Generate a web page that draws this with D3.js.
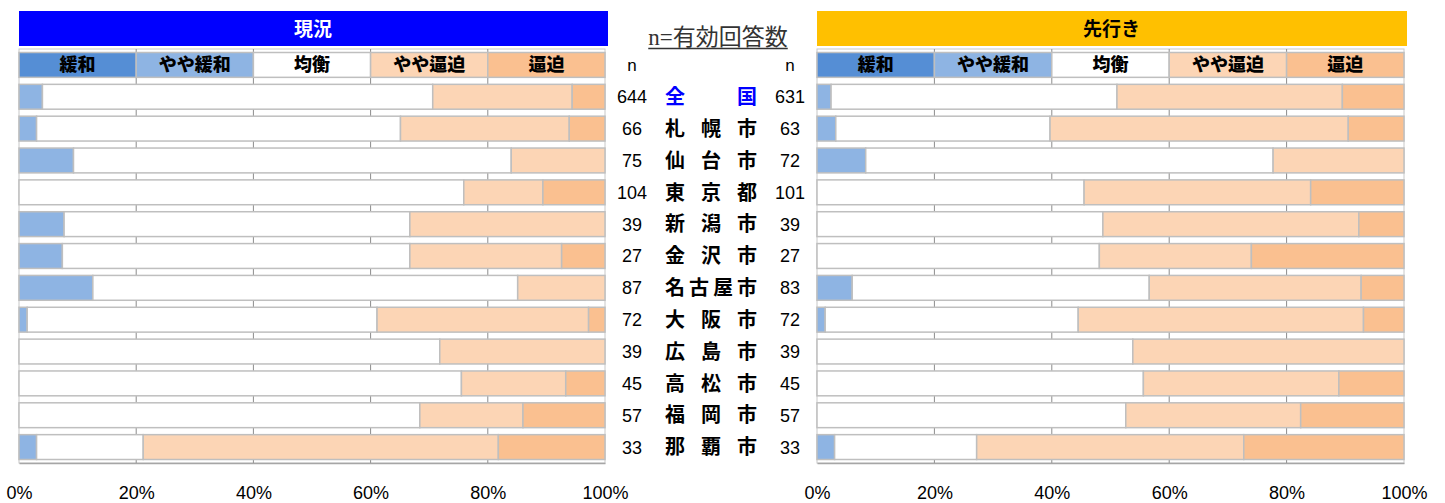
<!DOCTYPE html>
<html lang="ja">
<head>
<meta charset="utf-8">
<title>現況・先行き</title>
<script src="https://cdn.jsdelivr.net/npm/d3@7"></script>
<style>
  body { margin: 0; background: #fff; }
  svg { display: block; }
  .jp { font-family: "Noto Sans CJK JP", sans-serif; }
  .num { font-family: "Liberation Sans", Arial, sans-serif; }
</style>
</head>
<body>
<svg id="chart" width="1445" height="503"></svg>
<script>
// categories (rows) and answer counts
const cities = ["全国", "札幌市", "仙台市", "東京都", "新潟市", "金沢市", "名古屋市", "大阪市", "広島市", "高松市", "福岡市", "那覇市"];
const nNow    = [644, 66, 75, 104, 39, 27, 87, 72, 39, 45, 57, 33];
const nFuture = [631, 63, 72, 101, 39, 27, 83, 72, 39, 45, 57, 33];
const levels = ["緩和", "やや緩和", "均衡", "やや逼迫", "逼迫"];

// 現況 (%)
const nowKanwa      = [0, 0, 0, 0, 0, 0, 0, 0, 0, 0, 0, 0];
const nowYayaKanwa  = [4.0, 3.0, 9.3, 0, 7.7, 7.4, 12.6, 1.4, 0, 0, 0, 3.0];
const nowKinko      = [66.6, 62.1, 74.7, 75.9, 59.0, 59.3, 72.5, 59.7, 71.8, 75.5, 68.4, 18.2];
const nowYayaHip    = [23.8, 28.8, 16.0, 13.5, 33.3, 25.9, 14.9, 36.1, 28.2, 17.8, 17.6, 60.6];
const nowHip        = [5.6, 6.1, 0, 10.6, 0, 7.4, 0, 2.8, 0, 6.7, 14.0, 18.2];

// 先行き (%)
const futKanwa      = [0, 0, 0, 0, 0, 0, 0, 0, 0, 0, 0, 0];
const futYayaKanwa  = [2.4, 3.2, 8.3, 0, 0, 0, 6.0, 1.4, 0, 0, 0, 3.0];
const futKinko      = [48.7, 36.5, 69.4, 45.5, 48.7, 48.1, 50.6, 43.1, 53.8, 55.6, 52.6, 24.2];
const futYayaHip    = [38.4, 50.8, 22.3, 38.6, 43.6, 25.9, 36.1, 48.6, 46.2, 33.3, 29.8, 45.5];
const futHip        = [10.5, 9.5, 0, 15.9, 7.7, 26.0, 7.3, 6.9, 0, 11.1, 17.6, 27.3];

const tickValues = [0, 20, 40, 60, 80, 100];

const color = d3.scaleOrdinal()
  .domain(levels)
  .range(["#558ed5", "#8eb4e3", "#ffffff", "#fcd5b5", "#fac090"]);

function rows(series) {
  return cities.map((c, i) => {
    const r = { city: c };
    levels.forEach((l, k) => r[l] = series[k][i]);
    return r;
  });
}
const dataNow = rows([nowKanwa, nowYayaKanwa, nowKinko, nowYayaHip, nowHip]);
const dataFut = rows([futKanwa, futYayaKanwa, futKinko, futYayaHip, futHip]);

const svg = d3.select("#chart");
const plotTop = 49, plotBottom = 463;

const y = d3.scaleBand()
  .domain(["__legend"].concat(cities))
  .range([plotTop, plotBottom])
  .paddingInner(0.22)
  .paddingOuter(0.11);

const stack = d3.stack().keys(levels);

function panel(x0, x1, title, titleFill, titleColor, data) {
  const x = d3.scaleLinear().domain([0, 100]).range([x0, x1]);
  const g = svg.append("g");

  // title bar
  g.append("rect")
    .attr("x", x0).attr("y", 11)
    .attr("width", x1 - x0 + 3).attr("height", 35)
    .attr("fill", titleFill);
  g.append("text").attr("class", "jp")
    .attr("x", (x0 + x1) / 2 + 1).attr("y", 29)
    .attr("dy", "0.36em")
    .attr("text-anchor", "middle")
    .attr("font-size", 19).attr("font-weight", 700)
    .attr("fill", titleColor)
    .text(title);

  // plot frame + gridlines
  g.append("rect")
    .attr("x", x0).attr("y", plotTop)
    .attr("width", x1 - x0).attr("height", plotBottom - plotTop)
    .attr("fill", "#fff").attr("stroke", "#c8c8c8");
  g.append("g").selectAll("line")
    .data(tickValues.slice(1, -1))
    .join("line")
    .attr("x1", d => x(d)).attr("x2", d => x(d))
    .attr("y1", plotTop).attr("y2", plotBottom)
    .attr("stroke", "#8c8c8c");

  // legend row (drawn like a bar with equal cells)
  const lg = g.append("g");
  const step = 100 / levels.length;
  lg.selectAll("rect")
    .data(levels)
    .join("rect")
    .attr("x", (d, i) => x(i * step))
    .attr("y", y("__legend"))
    .attr("width", x(step) - x(0))
    .attr("height", y.bandwidth())
    .attr("fill", d => color(d))
    .attr("stroke", "#bfbfbf")
    .attr("stroke-width", 1.5);
  lg.selectAll("text")
    .data(levels)
    .join("text")
    .attr("class", "jp")
    .attr("x", (d, i) => x(i * step + step / 2))
    .attr("y", y("__legend") + y.bandwidth() / 2)
    .attr("dy", "0.36em")
    .attr("text-anchor", "middle")
    .attr("font-size", 18).attr("font-weight", 900)
    .attr("fill", "#000")
    .text(d => d);

  // stacked bars
  const series = stack(data);
  g.append("g").selectAll("g")
    .data(series)
    .join("g")
    .attr("fill", d => color(d.key))
    .selectAll("rect")
    .data(d => d.filter(s => s[1] - s[0] > 0))
    .join("rect")
    .attr("x", d => x(d[0]))
    .attr("y", d => y(d.data.city))
    .attr("width", d => x(d[1]) - x(d[0]))
    .attr("height", y.bandwidth())
    .attr("stroke", "#bfbfbf")
    .attr("stroke-width", 1.5);

  // x axis
  const ax = g.append("g")
    .attr("transform", `translate(0,${plotBottom})`)
    .call(d3.axisBottom(x).tickValues(tickValues).tickFormat(d => d + "%").tickSize(0).tickPadding(23));
  ax.select(".domain").attr("stroke", "#a6a6a6").attr("stroke-width", 1.5);
  ax.selectAll("text")
    .attr("class", "num")
    .attr("font-size", 18)
    .attr("fill", "#000");
}

panel(19, 605, "現況", "#0000ff", "#ffffff", dataNow);
panel(817, 1404, "先行き", "#ffc000", "#000000", dataFut);

// centre column
const mid = 711;
const head = svg.append("text")
  .attr("x", 718).attr("y", 45)
  .attr("text-anchor", "middle")
  .attr("font-size", 23)
  .attr("fill", "#333");
head.append("tspan").attr("font-family", "Liberation Serif, serif").text("n=");
head.append("tspan").attr("class", "jp").text("有効回答数");
const hb = head.node().getBBox();
svg.append("line")
  .attr("x1", hb.x).attr("x2", hb.x + hb.width)
  .attr("y1", 48.5).attr("y2", 48.5)
  .attr("stroke", "#333").attr("stroke-width", 1.3);

const cy = d => y(d) + y.bandwidth() / 2;

[[mid - 79, nNow], [mid + 79, nFuture]].forEach(([cx, ns]) => {
  svg.append("text").attr("class", "num")
    .attr("x", cx).attr("y", cy("__legend"))
    .attr("dy", "0.35em").attr("text-anchor", "middle")
    .attr("font-size", 17).attr("fill", "#000")
    .text("n");
  svg.append("g").selectAll("text")
    .data(cities)
    .join("text")
    .attr("class", "num")
    .attr("x", cx)
    .attr("y", d => cy(d))
    .attr("dy", "0.36em")
    .attr("text-anchor", "middle")
    .attr("font-size", 18)
    .attr("fill", "#000")
    .text((d, i) => ns[i]);
});

// city names, characters spread over a fixed width
const nameG = svg.append("g");
cities.forEach(c => {
  const chars = Array.from(c);
  const pos = d3.scalePoint().domain(d3.range(chars.length)).range([mid - 36, mid + 36]);
  nameG.selectAll(null)
    .data(chars)
    .enter()
    .append("text")
    .attr("class", "jp")
    .attr("x", (d, i) => pos(i))
    .attr("y", cy(c))
    .attr("dy", "0.36em")
    .attr("text-anchor", "middle")
    .attr("font-size", 20)
    .attr("font-weight", 700)
    .attr("fill", c === "全国" ? "#0000ff" : "#000")
    .text(d => d);
});
</script>
</body>
</html>
